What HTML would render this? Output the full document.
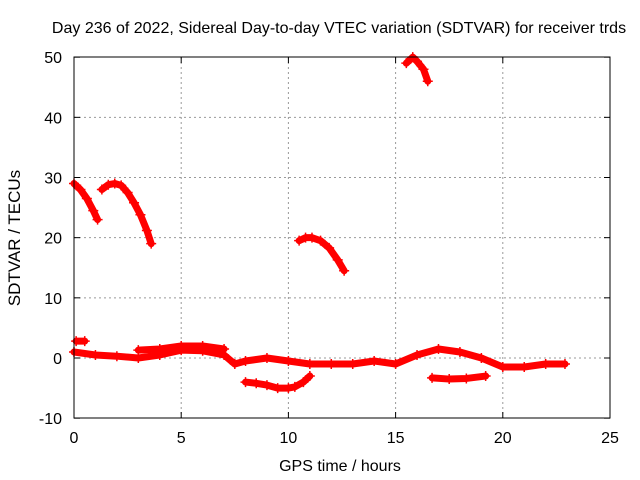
<!DOCTYPE html>
<html><head><meta charset="utf-8"><style>
body{margin:0;background:#fff;}
svg{display:block;font-family:"Liberation Sans",sans-serif;font-size:16px;}
</style></head><body>
<svg id="chart" width="640" height="480">
<rect width="640" height="480" fill="#fff"/>
<text x="339" y="33" text-anchor="middle">Day 236 of 2022, Sidereal Day-to-day VTEC variation (SDTVAR) for receiver trds</text>
<text x="340" y="471" text-anchor="middle">GPS time / hours</text>
<text transform="translate(20,238) rotate(-90)" text-anchor="middle" style="font-size:17px">SDTVAR / TECUs</text>
<g id="grid"></g><g id="ticks"></g><g id="series"></g>
<rect x="74" y="57" width="536" height="361" fill="none" stroke="#000"/>
</svg>
<script>
const xTicks=[0,5,10,15,20,25];
const yTicks=[-10,0,10,20,30,40,50];
const seg1T=[0,0.3,0.6,0.9,1.1], seg1V=[29,28,26.5,24.5,23];
const seg2T=[1.3,1.6,1.9,2.2,2.5,2.8,3.1,3.4,3.6], seg2V=[28,28.8,29,28.7,27.5,25.8,23.8,21.2,19];
const seg3T=[10.5,10.8,11.1,11.5,11.9,12.3,12.6], seg3V=[19.5,20,20,19.5,18.3,16.3,14.5];
const seg4T=[15.5,15.8,16.0,16.3,16.5], seg4V=[49,50,49.3,48,46];
const seg5T=[0.1,0.5], seg5V=[2.8,2.8];
const seg6T=[0,1,2,3,4,5,6,7,7.5,8,9,10,11,12,13,14,15,16,17,18,19,20,21,22,22.9];
const seg6V=[1,0.5,0.3,0,0.5,1.3,1.2,0.5,-1,-0.5,0,-0.5,-1,-1,-1,-0.5,-1,0.5,1.5,1,0,-1.5,-1.5,-1,-1];
const seg7T=[3.0,4,5,6,7], seg7V=[1.3,1.5,2,2,1.5];
const seg8T=[8,8.5,9,9.5,10,10.3,10.7,11], seg8V=[-4,-4.2,-4.5,-5,-5,-4.8,-4,-3];
const seg9T=[16.7,17.5,18.3,19.2], seg9V=[-3.3,-3.5,-3.4,-3];
const allSegs=[[seg1T,seg1V],[seg2T,seg2V],[seg3T,seg3V],[seg4T,seg4V],[seg5T,seg5V],[seg6T,seg6V],[seg7T,seg7V],[seg8T,seg8V],[seg9T,seg9V]];
const X=t=>74+t*(536/25), Y=v=>358-v*(361/60);
const NS='http://www.w3.org/2000/svg';
function mk(tag,attrs,parent){const e=document.createElementNS(NS,tag);for(const k in attrs)e.setAttribute(k,attrs[k]);parent.appendChild(e);return e;}
const grid=document.getElementById('grid'),ticks=document.getElementById('ticks'),series=document.getElementById('series');
xTicks.forEach(t=>{
 if(t>0&&t<25){const g=mk('line',{x1:X(t),x2:X(t),y1:57,y2:418,stroke:'#999','stroke-dasharray':'2,3'},grid);
 
 }
 mk('line',{x1:X(t),x2:X(t),y1:418,y2:412,stroke:'#000'},ticks);
 mk('line',{x1:X(t),x2:X(t),y1:57,y2:63,stroke:'#000'},ticks);
 const l=mk('text',{x:X(t),y:443,'text-anchor':'middle'},ticks);l.textContent=t;
 
 
});
yTicks.forEach(v=>{
 if(v>-10&&v<50){const g=mk('line',{x1:74,x2:610,y1:Y(v),y2:Y(v),stroke:'#999','stroke-dasharray':'2,3'},grid);
 
 }
 mk('line',{x1:74,x2:80,y1:Y(v),y2:Y(v),stroke:'#000'},ticks);
 mk('line',{x1:610,x2:604,y1:Y(v),y2:Y(v),stroke:'#000'},ticks);
 const l=mk('text',{x:62,y:Y(v)+6,'text-anchor':'end'},ticks);l.textContent=v;
 
 
});
allSegs.forEach(([ts,vs])=>{
 const pts=ts.map((t,i)=>X(t)+','+Y(vs[i])).join(' ');
 const p=mk('polyline',{points:pts,fill:'none',stroke:'#f00','stroke-width':7,'stroke-linejoin':'round','stroke-linecap':'round'},series);
 
 
 ts.forEach((t,i)=>{
  const m=mk('path',{d:`M${X(t)-5},${Y(vs[i])}h10M${X(t)},${Y(vs[i])-5}v10`,stroke:'#f00','stroke-width':1.5},series);
  
  
 });
});
</script>
</body></html>
